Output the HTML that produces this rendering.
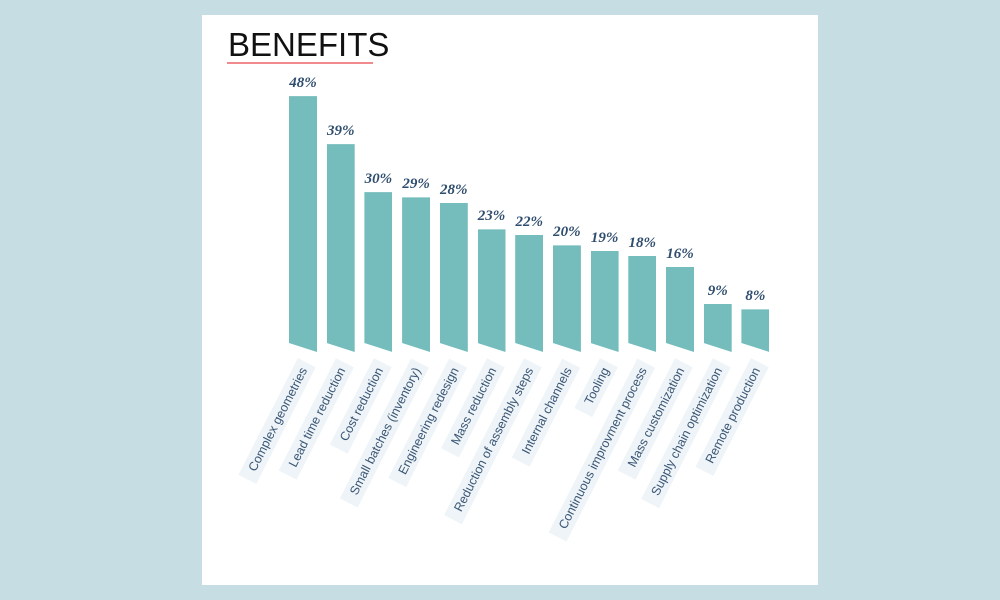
<!DOCTYPE html>
<html><head><meta charset="utf-8"><style>
body{margin:0;width:1000px;height:600px;background:#c6dde3;position:relative;overflow:hidden;font-family:"Liberation Sans",sans-serif}
#panel{position:absolute;left:202px;top:15px;width:616px;height:570px;background:#fff}
#title{position:absolute;left:228px;top:26px;font-size:33px;color:#111;letter-spacing:0px;font-weight:normal}
#uline{position:absolute;left:227px;top:62px;width:146px;height:2px;background:#f08a8c}
.bar{position:absolute;background:#74bdbc}
.val{position:absolute;font-family:"Liberation Serif",serif;font-weight:bold;font-style:italic;font-size:15px;color:#2f4d6e;width:60px;text-align:center}
.lab{position:absolute;white-space:nowrap;font-size:12.5px;color:#3a5675;background:#eef4f7;padding:3px 6px 3px 10px;transform-origin:100% 50%;transform:rotate(-63deg)}
</style></head><body>
<div id="panel"></div>
<div id="title">BENEFITS</div>
<div id="uline"></div>
<div id="chart"></div>
<script>
const categories=["Complex geometries","Lead time reduction","Cost reduction","Small batches (inventory)","Engineering redesign","Mass reduction","Reduction of assembly steps","Internal channels","Tooling","Continuous improvment process","Mass customization","Supply chain optimization","Remote production"];
const values=[48,39,30,29,28,23,22,20,19,18,16,9,8];
const x0=289,step=37.7,bw=28,base=352,scale=5.33;
const xPos=i=>x0+i*step;
const yPos=v=>base-v*scale;
const chart=document.getElementById('chart');
categories.forEach((c,i)=>{
  const v=values[i];
  const b=document.createElement('div');
  b.className='bar';
  
  
  b.style.left=xPos(i)+'px';b.style.width=bw+'px';
  b.style.top=yPos(v)+'px';b.style.height=(base-yPos(v))+'px';
  b.style.clipPath='polygon(0 0,100% 0,100% 100%,0 calc(100% - 9px))';
  chart.appendChild(b);
  const t=document.createElement('div');
  t.className='val';
  
  
  t.textContent=v+'%';
  t.style.left=(xPos(i)+bw/2-30)+'px';t.style.top=(yPos(v)-21)+'px';
  chart.appendChild(t);
  const l=document.createElement('div');
  l.className='lab';
  
  
  l.textContent=c;
  l.style.right=(1000-(xPos(i)+bw/2+4))+'px';l.style.top=(base+1)+'px';
  chart.appendChild(l);
});
</script>
</body></html>
